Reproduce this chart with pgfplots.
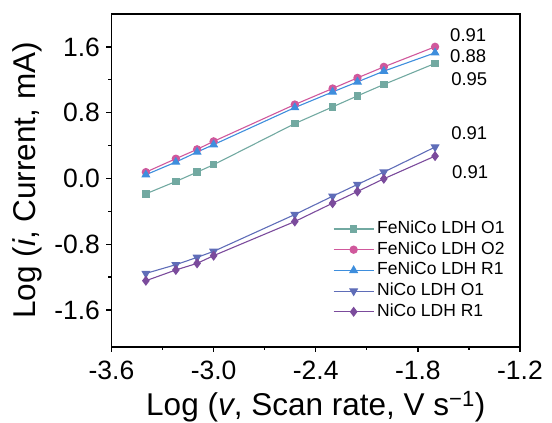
\documentclass[border=0pt]{standalone}
\usepackage{pgfplots}
\pgfplotsset{compat=1.18}
\usepackage{fontspec}
\setmainfont{Liberation Sans}
\definecolor{cA}{HTML}{72A9A1}
\definecolor{cB}{HTML}{D0589C}
\definecolor{cC}{HTML}{3E8EDD}
\definecolor{cD}{HTML}{5F6DB8}
\definecolor{cE}{HTML}{7B4B9C}
\begin{document}
\begin{tikzpicture}
\useasboundingbox (-111.5pt,-76pt) rectangle (440.5pt,347pt);
\begin{axis}[
  at={(0,0)}, anchor=south west,
  scale only axis, width=408.5pt, height=333pt,
  xmin=-3.6, xmax=-1.2, ymin=-2.05, ymax=2.0,
  xtick={-3.6,-3.0,-2.4,-1.8,-1.2},
  ytick={-1.6,-0.8,0.0,0.8,1.6},
  minor x tick num=1, minor y tick num=1,
  tick align=outside, tick pos=left,
  major tick length=5pt, minor tick length=3pt,
  axis line style={line width=1.3pt},
  every tick/.style={line width=1.3pt, black},
  /pgf/number format/assume math mode=true,
  /pgf/number format/fixed, /pgf/number format/fixed zerofill, /pgf/number format/precision=1,
  ticklabel style={font=\fontsize{26.5}{26.5}\selectfont},
  xticklabel style={yshift=-5pt},
  yticklabel style={xshift=-3pt},
  xlabel={Log (\textit{v}, Scan rate, V s\textsuperscript{−1})},
  ylabel={Log (\textit{i}, Current, mA)},
  label style={font=\fontsize{31.5}{31.5}\selectfont},
  xlabel style={at={(axis description cs:0.5,0)}, anchor=base, yshift=-69pt},
  ylabel style={at={(axis description cs:0,0.5)}, anchor=center, yshift=84pt},
  legend style={at={(rel axis cs:0.542,0.382)}, anchor=north west, draw=none, fill=none,
    font=\fontsize{17.5}{17.5}\selectfont, inner sep=0pt,
    nodes={inner sep=1pt, inner xsep=3pt, text height=12.5pt, text depth=3.5pt}, row sep=2.7pt},
  legend cell align=left,
  legend image code/.code={\draw[mark repeat=2, mark phase=2] plot coordinates {(0pt,0pt) (20pt,0pt) (40pt,0pt)};},
  every axis plot/.append style={line width=1.1pt},
]
\addplot[cA, mark=square*, mark size=3.2pt] coordinates {
(-3.398,-0.187) (-3.222,-0.037) (-3.097,0.077) (-3.0,0.167) (-2.523,0.667) (-2.301,0.870) (-2.155,1.004) (-2.0,1.143) (-1.699,1.399)};
\addlegendentry{FeNiCo LDH O1}
\addplot[cB, mark=*, mark size=3.6pt] coordinates {
(-3.398,0.077) (-3.222,0.240) (-3.097,0.354) (-3.0,0.451) (-2.523,0.899) (-2.301,1.094) (-2.155,1.223) (-2.0,1.357) (-1.699,1.601)};
\addlegendentry{FeNiCo LDH O2}
\addplot[cC, mark=triangle*, mark size=4.2pt] coordinates {
(-3.398,0.045) (-3.222,0.199) (-3.097,0.321) (-3.0,0.411) (-2.523,0.862) (-2.301,1.052) (-2.155,1.174) (-2.0,1.305) (-1.699,1.528)};
\addlegendentry{FeNiCo LDH R1}
\addplot[cD, mark=triangle*, mark options={rotate=180}, mark size=4.2pt] coordinates {
(-3.398,-1.155) (-3.222,-1.049) (-3.097,-0.960) (-3.0,-0.887) (-2.523,-0.439) (-2.301,-0.216) (-2.155,-0.073) (-2.0,0.077) (-1.699,0.382)};
\addlegendentry{NiCo LDH O1}
\addplot[cE, mark=diamond*, mark size=4.2pt] coordinates {
(-3.398,-1.244) (-3.222,-1.113) (-3.097,-1.033) (-3.0,-0.939) (-2.523,-0.524) (-2.301,-0.301) (-2.155,-0.159) (-2.0,-0.004) (-1.699,0.272)};
\addlegendentry{NiCo LDH R1}
\node[anchor=west, font=\fontsize{18.5}{18.5}\selectfont, inner sep=0pt] at (axis cs:-1.611,1.745) {0.91};
\node[anchor=west, font=\fontsize{18.5}{18.5}\selectfont, inner sep=0pt] at (axis cs:-1.611,1.489) {0.88};
\node[anchor=west, font=\fontsize{18.5}{18.5}\selectfont, inner sep=0pt] at (axis cs:-1.605,1.209) {0.95};
\node[anchor=west, font=\fontsize{18.5}{18.5}\selectfont, inner sep=0pt] at (axis cs:-1.605,0.553) {0.91};
\node[anchor=west, font=\fontsize{18.5}{18.5}\selectfont, inner sep=0pt] at (axis cs:-1.600,0.078) {0.91};
\end{axis}
\end{tikzpicture}
\end{document}
